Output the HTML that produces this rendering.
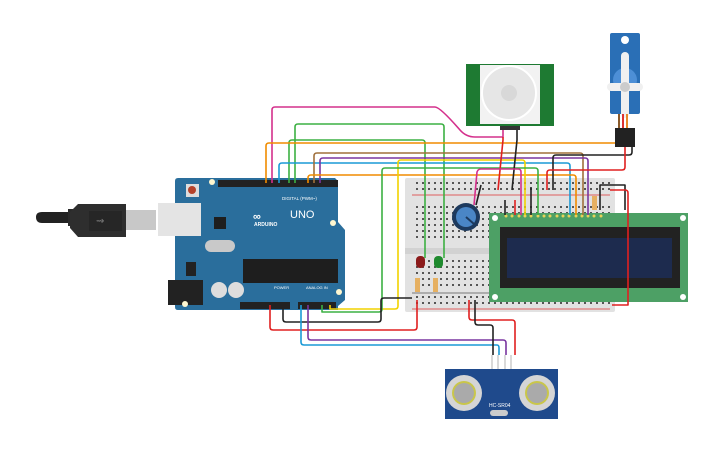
<!DOCTYPE html>
<html><head><meta charset="utf-8"><style>
html,body{margin:0;padding:0;background:#fff;width:725px;height:453px;overflow:hidden}
svg{display:block}
text{font-family:"Liberation Sans",sans-serif}
</style></head><body>
<svg width="725" height="453" viewBox="0 0 725 453" xmlns="http://www.w3.org/2000/svg">
<defs>
<pattern id="dots" width="6" height="6" patternUnits="userSpaceOnUse"><rect x="2" y="2" width="2" height="2" fill="#555"/></pattern>
</defs>
<!-- USB cable -->
<path d="M36 217 Q36 212 42 212 L70 212 L70 223 L42 223 Q36 223 36 217Z" fill="#222"/>
<rect x="68" y="209" width="10" height="17" fill="#2a2a2a"/>
<path d="M78 204 L126 204 L126 237 L78 237 L70 228 L70 212Z" fill="#2e2e2e"/>
<rect x="89" y="211" width="33" height="20" fill="#262626"/>
<text x="96" y="224" font-size="10" fill="#777">⇝</text>
<rect x="126" y="210" width="30" height="20" fill="#c8c8c8"/>
<!-- Arduino board -->
<path d="M178 178 L335 178 L338 181 L338 222 L345 230 L345 300 L338 306 L338 310 L178 310 Q175 310 175 307 L175 181 Q175 178 178 178Z" fill="#2a6e9c"/>
<rect x="158" y="203" width="43" height="33" fill="#e4e4e4"/>
<rect x="168" y="280" width="35" height="25" fill="#222"/>
<rect x="186" y="184" width="13" height="13" fill="#ddd"/><circle cx="192" cy="190" r="4" fill="#b5432b"/>
<rect x="218" y="180" width="120" height="7" fill="#222"/>
<rect x="240" y="302" width="50" height="7" fill="#222"/>
<rect x="298" y="302" width="38" height="7" fill="#222"/>
<rect x="243" y="259" width="95" height="24" fill="#1e1e1e"/>
<rect x="205" y="240" width="30" height="12" rx="6" fill="#c9c9c9"/>
<rect x="214" y="217" width="12" height="12" fill="#1e1e1e"/>
<circle cx="219" cy="290" r="8" fill="#ddd"/><circle cx="236" cy="290" r="8" fill="#ddd"/>
<rect x="186" y="262" width="10" height="14" fill="#222"/>
<text x="253" y="220" font-size="11" fill="#fff" font-weight="bold">∞</text>
<text x="290" y="218" font-size="11" fill="#fff">UNO</text>
<text x="254" y="226" font-size="5" fill="#fff" font-weight="bold">ARDUINO</text>
<text x="282" y="200" font-size="4.5" fill="#fff">DIGITAL (PWM~)</text>
<text x="274" y="289" font-size="4" fill="#fff">POWER</text>
<text x="306" y="289" font-size="4" fill="#fff">ANALOG IN</text>
<circle cx="212" cy="182" r="3" fill="#fff7d0"/><circle cx="185" cy="304" r="3" fill="#fff7d0"/><circle cx="339" cy="292" r="3" fill="#fff7d0"/><circle cx="333" cy="223" r="3" fill="#fff7d0"/>
<!-- Breadboard -->
<rect x="405" y="178" width="210" height="134" rx="2" fill="#e2e2e2"/>
<rect x="412" y="180" width="198" height="13" fill="url(#dots)"/>
<line x1="412" y1="195" x2="610" y2="195" stroke="#d33" stroke-width="0.8"/>
<rect x="412" y="202" width="198" height="38" fill="url(#dots)"/>
<rect x="405" y="248" width="210" height="6" fill="#d2d2d2"/>
<rect x="412" y="256" width="198" height="32" fill="url(#dots)"/>
<line x1="412" y1="293" x2="610" y2="293" stroke="#555" stroke-width="0.8"/>
<rect x="412" y="295" width="198" height="13" fill="url(#dots)"/>
<line x1="412" y1="309" x2="610" y2="309" stroke="#d33" stroke-width="0.8"/>
<!-- LEDs & resistors -->
<rect x="416" y="256" width="9" height="12" rx="4" fill="#8b1a1a"/>
<rect x="434" y="256" width="9" height="12" rx="4" fill="#1f8a2e"/>
<rect x="415" y="278" width="5" height="14" fill="#e6b061"/><rect x="433" y="278" width="5" height="14" fill="#e6b061"/>
<rect x="592" y="196" width="5" height="14" fill="#e6b061"/>
<!-- LCD -->
<rect x="489" y="213" width="199" height="89" fill="#4da065"/>
<rect x="500" y="227" width="180" height="61" fill="#222"/>
<rect x="507" y="238" width="165" height="40" fill="#1d2b4e"/>
<circle cx="495" cy="218" r="3" fill="#fff"/><circle cx="683" cy="218" r="3" fill="#fff"/><circle cx="683" cy="297" r="3" fill="#fff"/><circle cx="495" cy="297" r="3" fill="#fff"/>
<g fill="#e8d25a"><circle cx="506" cy="216" r="1.5"/><circle cx="512" cy="216" r="1.5"/><circle cx="519" cy="216" r="1.5"/><circle cx="525" cy="216" r="1.5"/><circle cx="531" cy="216" r="1.5"/><circle cx="538" cy="216" r="1.5"/><circle cx="544" cy="216" r="1.5"/><circle cx="550" cy="216" r="1.5"/><circle cx="557" cy="216" r="1.5"/><circle cx="563" cy="216" r="1.5"/><circle cx="569" cy="216" r="1.5"/><circle cx="576" cy="216" r="1.5"/><circle cx="582" cy="216" r="1.5"/><circle cx="588" cy="216" r="1.5"/><circle cx="594" cy="216" r="1.5"/><circle cx="601" cy="216" r="1.5"/></g>
<!-- PIR -->
<rect x="466" y="64" width="88" height="62" fill="#1e7a32"/>
<rect x="480" y="65" width="60" height="59" fill="#f2f2f2"/>
<circle cx="509" cy="93" r="27" fill="#e6e6e6" stroke="#fff" stroke-width="2"/>
<circle cx="509" cy="93" r="8" fill="#d8d8d8"/>
<rect x="500" y="126" width="20" height="4" fill="#333"/>
<!-- Servo -->
<rect x="610" y="33" width="30" height="81" rx="2" fill="#2a6fb6"/>
<circle cx="625" cy="40" r="4" fill="#fff"/>
<circle cx="625" cy="80" r="12" fill="#4d8fd6"/>
<rect x="621" y="52" width="8" height="66" rx="4" fill="#f0f0f0"/>
<rect x="607" y="83" width="36" height="8" rx="4" fill="#f0f0f0"/>
<circle cx="625" cy="87" r="5" fill="#ccc"/>
<rect x="618" y="114" width="2" height="14" fill="#8a5a2a"/><rect x="622" y="114" width="2" height="14" fill="#d33"/><rect x="626" y="114" width="2" height="14" fill="#e88a2a"/>
<rect x="615" y="128" width="20" height="19" fill="#222"/>
<!-- Pot -->
<circle cx="466" cy="217" r="14" fill="#1d3a5e"/><circle cx="466" cy="217" r="10" fill="#4a86c6"/>
<line x1="466" y1="217" x2="474" y2="224" stroke="#1d3a5e" stroke-width="2"/>
<!-- Ultrasonic -->
<rect x="445" y="369" width="113" height="50" fill="#1f4a8c"/>
<circle cx="464" cy="393" r="18" fill="#d5d5d5"/><circle cx="464" cy="393" r="12" fill="#c9c64a"/><circle cx="464" cy="393" r="10" fill="#aaa"/>
<circle cx="537" cy="393" r="18" fill="#d5d5d5"/><circle cx="537" cy="393" r="12" fill="#c9c64a"/><circle cx="537" cy="393" r="10" fill="#aaa"/>
<rect x="490" y="410" width="18" height="6" rx="3" fill="#ccc"/>
<text x="489" y="407" font-size="5" fill="#fff">HC-SR04</text>
<g stroke="#ccc" stroke-width="1.5"><line x1="492" y1="355" x2="492" y2="369"/><line x1="498" y1="355" x2="498" y2="369"/><line x1="505" y1="355" x2="505" y2="369"/><line x1="511" y1="355" x2="511" y2="369"/></g>
<!-- Wires -->
<g fill="none" stroke-width="1.6" stroke-linejoin="round">
<path d="M272 183 V110 Q272 107 275 107 H435 Q440 107 460 130 Q466 137 475 137 H503 V130" stroke="#d4308c"/>
<path d="M295 183 V127 Q295 124 298 124 H441 Q444 124 444 127 V258" stroke="#3cb043"/>
<path d="M289 183 V143 Q289 140 292 140 H422 Q425 140 425 143 V258" stroke="#3cb043"/>
<path d="M266 183 V146 Q266 143 269 143 H615" stroke="#f08c00"/>
<path d="M279 183 V166 Q279 163 282 163 H567 Q570 163 570 166 V215" stroke="#1a9ad6"/>
<path d="M314 183 V156 Q314 153 317 153 H580 Q583 153 583 156 V215" stroke="#a0703c"/>
<path d="M320 183 V161 Q320 158 323 158 H585 Q588 158 588 161 V215" stroke="#7a35a0"/>
<path d="M308 183 V178 Q308 175 311 175 H573 Q576 175 576 178 V215" stroke="#f08c00"/>
<path d="M330 305 V309 H395 Q398 309 398 306 V163 Q398 160 401 160 H522 Q525 160 525 163 V215" stroke="#f2d200"/>
<path d="M322 305 V312 H379 Q382 312 382 309 V171 Q382 168 385 168 H535 Q538 168 538 171 V215" stroke="#3cb043"/>
<path d="M503 137 V140 L498 190" stroke="#e02020"/>
<path d="M517 130 V140 L512 190" stroke="#222"/>
<path d="M632 147 V152 Q632 155 629 155 H556 Q553 155 553 158 V190" stroke="#222"/>
<path d="M625 147 V167 Q625 170 622 170 H550 Q547 170 547 173 V190" stroke="#e02020"/>
<path d="M474 205 L477 172 Q478 169 481 169 H518 Q521 169 521 172 V215" stroke="#d4308c"/>
<path d="M476 205 L481 185" stroke="#222"/>
<path d="M505 200 V215" stroke="#222"/><path d="M515 200 V215" stroke="#e02020"/><path d="M531 187 V215" stroke="#222"/>
<path d="M600 210 V185 H625 V210" stroke="#222"/>
<path d="M610 190 H625 Q628 190 628 193 V305 H612" stroke="#e02020"/>
<path d="M270 305 V327 Q270 330 273 330 H414 Q417 330 417 327 V300" stroke="#e02020"/>
<path d="M283 305 V319 Q283 322 286 322 H378 Q381 322 381 319 V301 Q381 298 384 298 H412" stroke="#222"/>
<path d="M301 305 V342 Q301 345 304 345 H497 Q499 345 499 348 V355" stroke="#1a9ad6"/>
<path d="M308 305 V337 Q308 340 311 340 H503 Q506 340 506 343 V355" stroke="#7a35a0"/>
<path d="M469 300 V317 Q469 320 472 320 H512 Q515 320 515 323 V355" stroke="#e02020"/>
<path d="M475 300 V322 Q475 325 478 325 H490 Q493 325 493 328 V355" stroke="#222"/>
</g>
</svg>
</body></html>
